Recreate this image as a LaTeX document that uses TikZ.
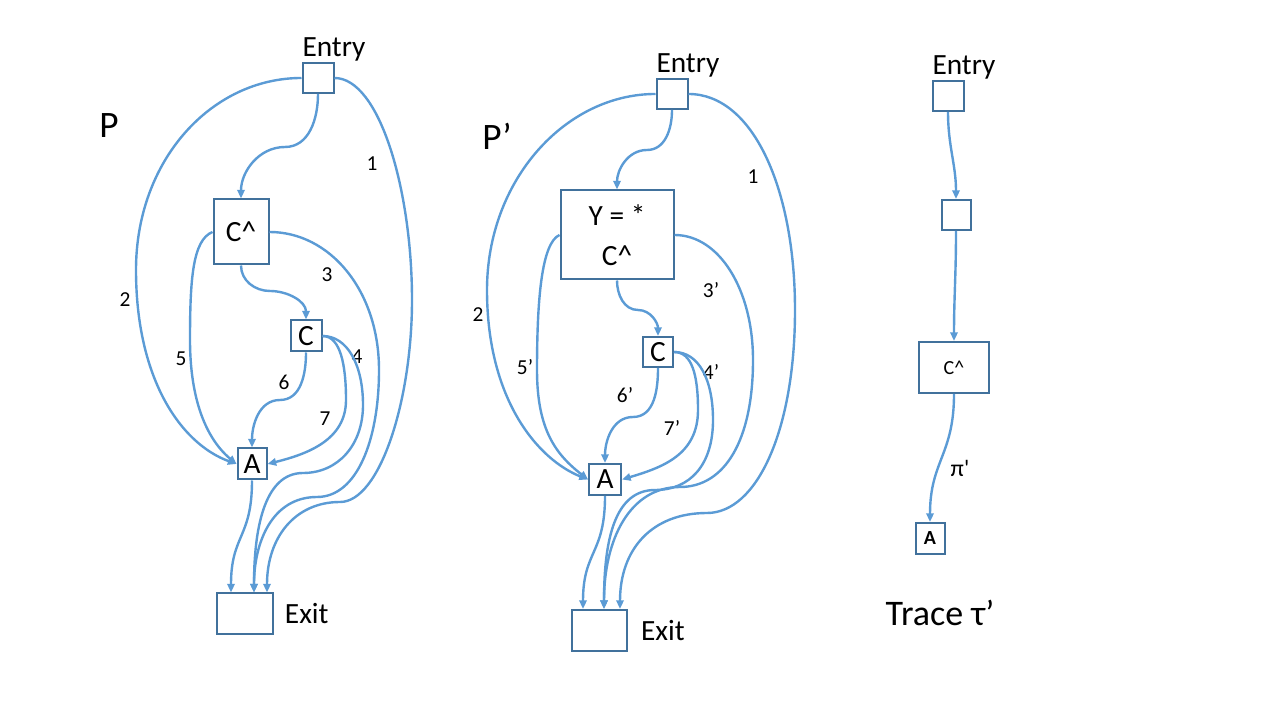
\documentclass[tikz,border=0pt]{standalone}
\usepackage{fontspec}
\setmainfont{Carlito}
\usetikzlibrary{arrows.meta, positioning, calc}
\definecolor{edgeblue}{HTML}{5B9BD5}
\definecolor{boxblue}{HTML}{41719C}

\begin{document}
\begin{tikzpicture}[
  x=0.75pt, y=0.75pt,
  box/.style={rectangle, draw=boxblue, line width=1.5pt, fill=white,
    inner sep=0pt, align=center, font=\fontsize{22}{30}\selectfont},
  flow/.style={-{Triangle[length=6.5pt, width=5.5pt]}, edgeblue, line width=1.8pt},
  lbl/.style={inner sep=0pt, font=\fontsize{16}{19}\selectfont},
  caption/.style={inner sep=0pt, font=\fontsize{22}{26}\selectfont},
  title/.style={inner sep=0pt, anchor=base, font=\fontsize{28}{32}\selectfont}
]
\useasboundingbox (0,0) rectangle (1280,720);

% Program P
\node[title] (tP) at (109,582) {P};
\node[box, minimum width=23.25pt, minimum height=22.5pt] (entP) at (318,642) {};
\node[box, minimum width=41.25pt, minimum height=48.75pt] (chatP) at (241,488) {C\textasciicircum};
\node[box, minimum width=23.25pt, minimum height=23.25pt] (cP) at (306,384) {C};
\node[box, minimum width=21.75pt, minimum height=23.25pt] (aP) at (252,256) {A};
\node[box, minimum width=42pt, minimum height=30.75pt] (exP) at (245,106) {};
\node[caption, above=0pt of entP, xshift=12pt] (tEntP) {Entry};
\node[caption, right=8pt of exP] (tExP) {Exit};

\node[lbl] (l1P) at (372,556) {1};
\node[lbl] (l2P) at (125,420) {2};
\node[lbl] (l3P) at (327,445) {3};
\node[lbl] (l4P) at (357,363) {4};
\node[lbl] (l5P) at (181,361) {5};
\node[lbl] (l6P) at (284,338) {6};
\node[lbl] (l7P) at (325,301) {7};

\draw[flow] (entP.south) to[out=-90, in=0] (285,573) to[out=180, in=90] (chatP.north);
\draw[flow] (entP.east) .. controls +(45,0) and +(0,110) .. (412,420)
  .. controls +(0,-100) and +(40,0) .. (340,218)
  .. controls +(-45,0) and +(0,55) .. ($(exP.north)+(22,0)$);
\draw[flow] (entP.west) .. controls +(-90,0) and +(0,110) .. (136,450)
  .. controls +(0,-110) and +(-55,20) .. (aP.west);
\draw[flow] (chatP.east) .. controls +(60,0) and +(0,80) .. (379,350)
  .. controls +(0,-70) and +(40,0) .. (317,223)
  .. controls +(-45,0) and +(0,50) .. ($(exP.north)+(9,0)$);
\draw[flow] (cP.east) .. controls +(25,0) and +(0,40) .. (363,315)
  .. controls +(0,-40) and +(35,0) .. (303,247)
  .. controls +(-40,0) and +(0,60) .. ($(exP.north)+(9,0)$);
\draw[flow] (chatP.west) .. controls +(-20,-8) and +(0,60) .. (190,380)
  .. controls +(0,-60) and +(-30,25) .. (aP.west);
\draw[flow] (cP.south) to[out=-90, in=0] (280,320) to[out=180, in=90] (aP.north);
\draw[flow] (cP.east) .. controls +(18,0) and +(0,35) .. (346,320)
  .. controls +(0,-40) and +(40,10) .. (aP.east);
\draw[flow] (chatP.south) to[out=-90, in=180] (270,429) to[out=0, in=90] (cP.north);
\draw[flow] (aP.south) to[out=-90, in=90, looseness=1.3] ($(exP.north)+(-14,0)$);

% Program P'
\node[title] (tQ) at (497,570) {P’};
\node[box, minimum width=23.25pt, minimum height=22.5pt] (entQ) at (672,626) {};
\node[box, minimum width=84.75pt, minimum height=66.75pt] (chatQ) at (617,485) {Y = *\\C\textasciicircum};
\node[box, minimum width=22.5pt, minimum height=22.5pt] (cQ) at (658,368) {C};
\node[box, minimum width=24pt, minimum height=23.25pt] (aQ) at (605,240.5) {A};
\node[box, minimum width=41.25pt, minimum height=30.75pt] (exQ) at (599,89.5) {};
\node[caption, above=0pt of entQ, xshift=12pt] (tEntQ) {Entry};
\node[caption, right=10pt of exQ] (tExQ) {Exit};

\node[lbl] (l1Q) at (753,543) {1};
\node[lbl] (l2Q) at (478,405) {2};
\node[lbl] (l3Q) at (711,430) {3’};
\node[lbl] (l4Q) at (711,348) {4’};
\node[lbl] (l5Q) at (525,353) {5’};
\node[lbl] (l6Q) at (625,325) {6’};
\node[lbl] (l7Q) at (672,292) {7’};

\draw[flow] (entQ.south) to[out=-90, in=0] (647,570) to[out=180, in=90] (chatQ.north);
\draw[flow] (entQ.east) .. controls +(65,0) and +(0,120) .. (795,410)
  .. controls +(0,-120) and +(50,0) .. (707,207)
  .. controls +(-55,0) and +(0,60) .. ($(exQ.north)+(21,0)$);
\draw[flow] (entQ.west) .. controls +(-90,0) and +(0,110) .. (487,430)
  .. controls +(0,-110) and +(-50,20) .. (aQ.west);
\draw[flow] (chatQ.east) .. controls +(45,0) and +(0,70) .. (753,360)
  .. controls +(0,-80) and +(45,0) .. (680,233)
  .. controls +(-50,0) and +(0,70) .. ($(exQ.north)+(5,0)$);
\draw[flow] (cQ.east) .. controls +(25,0) and +(0,40) .. (713,300)
  .. controls +(0,-45) and +(35,0) .. (655,230)
  .. controls +(-40,0) and +(0,70) .. ($(exQ.north)+(5,0)$);
\draw[flow] (chatQ.west) .. controls +(-18,-8) and +(0,70) .. (537,350)
  .. controls +(0,-60) and +(-32,25) .. (aQ.west);
\draw[flow] (cQ.south) to[out=-90, in=0] (633,303) to[out=180, in=90] (aQ.north);
\draw[flow] (cQ.east) .. controls +(18,0) and +(0,35) .. (698,310)
  .. controls +(0,-45) and +(40,12) .. (aQ.east);
\draw[flow] (chatQ.south) to[out=-90, in=180] (638,410) to[out=0, in=90] (cQ.north);
\draw[flow] (aQ.south) to[out=-90, in=90, looseness=1.3] ($(exQ.north)+(-16,0)$);

% Trace tau'
\node[box, minimum width=23.25pt, minimum height=22.5pt] (entT) at (948,624) {};
\node[box, minimum width=21.75pt, minimum height=22.5pt] (midT) at (956,505) {};
\node[box, minimum width=52.5pt, minimum height=38.25pt, font=\fontsize{15}{18}\selectfont] (chatT) at (954,352.5) {C\textasciicircum};
\node[box, minimum width=21.75pt, minimum height=23.25pt, font=\fontsize{15}{18}\selectfont\bfseries] (aT) at (930,181.5) {A};
\node[caption, above=0pt of entT, xshift=12pt] (tEntT) {Entry};
\node[lbl, anchor=base, font=\fontsize{18}{21}\selectfont] (lPi) at (960,243) {π\textquotesingle};
\node[title, font=\fontsize{27}{32}\selectfont] (tTrace) at (940,94) {Trace τ’};

\draw[flow] (entT.south) to[out=-90, in=90] (midT.north);
\draw[flow] (midT.south) to[out=-90, in=90] (chatT.north);
\draw[flow] (chatT.south) to[out=-90, in=90, looseness=1.2] (aT.north);
\end{tikzpicture}
\end{document}
